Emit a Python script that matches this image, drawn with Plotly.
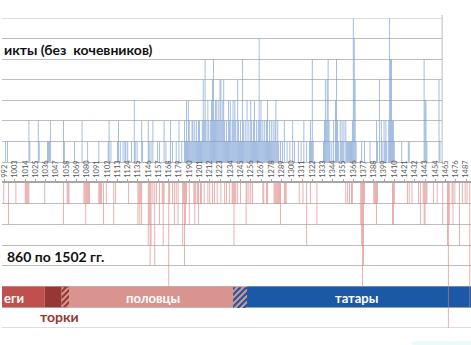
import plotly.graph_objects as go

W, H = 471, 345

# ---------------- data ----------------
# internal conflicts (upper panel, blue)
blue_years = [993, 995, 1018, 1019, 1028, 1029, 1038, 1039, 1040, 1041, 1055, 1056, 1067, 1075, 1081,
              1093, 1103, 1104, 1106, 1113, 1114, 1116, 1119, 1121, 1122, 1124, 1128, 1131, 1132, 1134,
              1139, 1140, 1146, 1147, 1149, 1151, 1156, 1158, 1163, 1165, 1170, 1172, 1176, 1179, 1182,
              1185, 1186, 1187, 1188, 1189, 1190, 1191, 1192, 1193, 1194, 1195, 1196, 1197, 1198, 1199,
              1200, 1201, 1202, 1203, 1204, 1205, 1206, 1207, 1208, 1209, 1210, 1211, 1212, 1213, 1214,
              1215, 1216, 1217, 1218, 1219, 1220, 1221, 1222, 1223, 1224, 1225, 1226, 1227, 1228, 1229,
              1230, 1231, 1232, 1233, 1234, 1235, 1236, 1237, 1238, 1239, 1240, 1241, 1242, 1243, 1244,
              1245, 1246, 1247, 1248, 1249, 1250, 1251, 1252, 1253, 1254, 1255, 1256, 1257, 1258, 1259,
              1260, 1261, 1262, 1263, 1264, 1265, 1266, 1267, 1268, 1269, 1270, 1271, 1272, 1273, 1274,
              1275, 1276, 1277, 1278, 1279, 1280, 1281, 1282, 1283, 1284, 1285, 1286, 1288, 1290, 1292,
              1295, 1298, 1301, 1303, 1307, 1310, 1313, 1316, 1319, 1320, 1321, 1322, 1323, 1334, 1335,
              1336, 1337, 1338, 1339, 1340, 1341, 1343, 1345, 1347, 1348, 1349, 1350, 1352, 1353, 1354,
              1355, 1356, 1358, 1359, 1360, 1361, 1362, 1363, 1364, 1365, 1366, 1367, 1368, 1369, 1375,
              1378, 1384, 1391, 1392, 1394, 1396, 1397, 1399, 1400, 1401, 1402, 1404, 1405, 1406, 1407,
              1408, 1409, 1410, 1418, 1425, 1426, 1442, 1443, 1444, 1445, 1458, 1459]
blue_vals = [1, 1, 2, 1, 2, 1, 1, 1, 1, 2, 2, 1, 1, 2, 1,
             1, 1, 2, 1, 1, 2, 1, 1, 1, 1, 1, 1, 3, 1, 1,
             2, 1, 2, 1, 1, 2, 1, 1, 2, 1, 2, 1, 1, 2, 1,
             2, 1, 3, 1, 3, 2, 1, 1, 2, 2, 1, 2, 1, 2, 1,
             2, 2, 1, 1, 2, 4, 2, 5, 2, 1, 3, 2, 1, 2, 3,
             4, 5, 2, 3, 3, 2, 3, 2, 4, 4, 2, 3, 4, 2, 1,
             2, 1, 3, 2, 3, 1, 2, 3, 2, 3, 2, 1, 4, 2, 1,
             2, 1, 5, 2, 1, 2, 1, 3, 1, 2, 1, 3, 2, 1, 2,
             3, 1, 2, 1, 2, 6, 2, 3, 1, 2, 1, 2, 1, 2, 3,
             1, 2, 1, 2, 1, 2, 1, 2, 3, 1, 2, 1, 1, 1, 2,
             1, 1, 2, 1, 1, 1, 2, 1, 1, 2, 1, 5, 1, 1, 2,
             4, 2, 4, 5, 2, 1, 1, 2, 3, 5, 2, 1, 2, 1, 2,
             1, 2, 2, 1, 1, 1, 1, 1, 1, 2, 7, 6, 4, 1, 1,
             1, 1, 2, 1, 4, 2, 1, 2, 1, 2, 1, 2, 7, 5, 5,
             2, 2, 1, 1, 1, 1, 5, 3, 3, 1, 4, 1]

# conflicts with nomads (lower panel, red, drawn downwards)
red_years = [991, 996, 1004, 1014, 1015, 1016, 1017, 1018, 1035, 1055, 1059, 1060, 1061, 1077, 1078,
             1079, 1080, 1081, 1082, 1083, 1093, 1094, 1095, 1096, 1098, 1101, 1109, 1111, 1125, 1135,
             1136, 1137, 1138, 1139, 1146, 1147, 1148, 1149, 1151, 1153, 1155, 1158, 1161, 1162, 1163,
             1168, 1169, 1172, 1174, 1176, 1178, 1183, 1184, 1185, 1186, 1187, 1190, 1195, 1196, 1197,
             1199, 1200, 1202, 1203, 1206, 1210, 1212, 1215, 1217, 1220, 1224, 1228, 1230, 1233, 1236,
             1237, 1238, 1239, 1240, 1242, 1245, 1251, 1252, 1254, 1256, 1258, 1269, 1270, 1273, 1274,
             1281, 1282, 1283, 1284, 1285, 1286, 1287, 1288, 1292, 1293, 1294, 1308, 1312, 1316, 1320,
             1327, 1358, 1360, 1362, 1364, 1365, 1374, 1375, 1376, 1377, 1378, 1388, 1389, 1390, 1391,
             1392, 1408, 1409, 1410, 1424, 1426, 1429, 1436, 1438, 1441, 1442, 1443, 1444, 1445, 1452,
             1456, 1462, 1467, 1468, 1469, 1472, 1473, 1475, 1480, 1483, 1486, 1488, 1491]
red_vals = [1, 2, 1, 1, 1, 1, 1, 1, 1, 2, 1, 1, 1, 1, 1,
            2, 1, 1, 1, 1, 1, 1, 1, 1, 2, 1, 2, 1, 1, 2,
            1, 2, 1, 2, 3, 2, 4, 3, 1, 4, 1, 2, 1, 3, 1,
            5, 1, 1, 2, 1, 2, 3, 1, 4, 2, 1, 2, 1, 2, 1,
            1, 2, 1, 1, 1, 1, 1, 1, 1, 1, 1, 1, 1, 1, 1,
            1, 3, 1, 1, 1, 1, 2, 1, 1, 1, 1, 1, 1, 1, 1,
            1, 1, 1, 1, 1, 1, 1, 2, 1, 1, 1, 1, 1, 3, 1,
            2, 1, 1, 1, 1, 1, 2, 3, 5, 4, 1, 1, 1, 1, 2,
            1, 2, 2, 1, 1, 1, 1, 1, 2, 1, 2, 2, 1, 1, 1,
            1, 2, 3, 7, 2, 1, 2, 1, 3, 1, 1, 1, 6]

tick_years = list(range(992, 1488, 11))
tick_labels = [str(y) for y in tick_years]

# nomad periods (band)
band_names = ["печенеги", "торки", "половцы", "татары"]
band_starts = [900, 1035, 1061, 1252]
band_ends = [1035, 1053, 1237, 1510]
band_colors = ["#C0504D", "#953735", "#D9948F", "#1B58A6"]
hatch_starts = [1053, 1237]
hatch_ends = [1061, 1252]
hatch_base = ["#953735", "#D9948F"]
hatch_stripe = ["#D9948F", "#1B58A6"]

# ---------------- geometry ----------------
X0 = 989.1          # year at left edge
S = 0.936           # px per year
UP_RIGHT = 442      # right border of upper panel (px)
BAND_TOP, BAND_BOT = 287.2, 307.9


def px(x):
    return x / W


def py(y):
    return 1 - y / H


def year_px(yr):
    return (yr - X0) * S


def clip_poly(poly, xa, xb, ya, yb):
    def clip(pts, inside, inter):
        out = []
        n = len(pts)
        for i in range(n):
            cur, prv = pts[i], pts[i - 1]
            if inside(cur):
                if not inside(prv):
                    out.append(inter(prv, cur))
                out.append(cur)
            elif inside(prv):
                out.append(inter(prv, cur))
        return out

    def ix(p, q, xv):
        t = (xv - p[0]) / (q[0] - p[0])
        return (xv, p[1] + t * (q[1] - p[1]))

    def iy(p, q, yv):
        t = (yv - p[1]) / (q[1] - p[1])
        return (p[0] + t * (q[0] - p[0]), yv)

    pts = poly
    pts = clip(pts, lambda p: p[0] >= xa, lambda p, q: ix(p, q, xa)) if pts else pts
    pts = clip(pts, lambda p: p[0] <= xb, lambda p, q: ix(p, q, xb)) if pts else pts
    pts = clip(pts, lambda p: p[1] >= ya, lambda p, q: iy(p, q, ya)) if pts else pts
    pts = clip(pts, lambda p: p[1] <= yb, lambda p, q: iy(p, q, yb)) if pts else pts
    return pts


fig = go.Figure()

fig.add_trace(go.Bar(x=blue_years, y=blue_vals, width=0.9,
                     marker=dict(color="rgba(118,156,210,0.78)", line=dict(width=0)),
                     xaxis="x", yaxis="y", showlegend=False, hoverinfo="skip"))
fig.add_trace(go.Bar(x=red_years, y=red_vals, width=0.9,
                     marker=dict(color="rgba(220,128,126,0.72)", line=dict(width=0)),
                     xaxis="x2", yaxis="y2", showlegend=False, hoverinfo="skip"))

grid = "#BDBDBD"
shapes = []
# band segments
for s0, s1, c in zip(band_starts, band_ends, band_colors):
    shapes.append(dict(type="rect", xref="x2", yref="y2", x0=s0, x1=s1, y0=5, y1=6,
                       fillcolor=c, line=dict(width=0), layer="between"))
# hatch areas (diagonal stripes, drawn in pixel space)
for h0, h1, b, st in zip(hatch_starts, hatch_ends, hatch_base, hatch_stripe):
    shapes.append(dict(type="rect", xref="x2", yref="y2", x0=h0, x1=h1, y0=5, y1=6,
                       fillcolor=b, line=dict(width=0), layer="between"))
    xa, xb = year_px(h0), year_px(h1)
    period, thick = 6.0, 3.0
    c = xa + BAND_TOP - 30
    while c < xb + BAND_BOT + 30:
        poly = [(xa - 40, -(xa - 40) + c), (xb + 40, -(xb + 40) + c),
                (xb + 40, -(xb + 40) + c + thick), (xa - 40, -(xa - 40) + c + thick)]
        cl = clip_poly(poly, xa, xb, BAND_TOP, BAND_BOT)
        if len(cl) >= 3:
            path = "M " + " L ".join(f"{px(p[0]):.5f},{py(p[1]):.5f}" for p in cl) + " Z"
            shapes.append(dict(type="path", xref="paper", yref="paper", path=path,
                               fillcolor=st, line=dict(width=0), layer="above"))
        c += period

# edge grid lines
shapes.append(dict(type="line", xref="paper", yref="y", x0=0, x1=px(UP_RIGHT), y0=7, y1=7,
                   line=dict(color=grid, width=1)))
shapes.append(dict(type="line", xref="paper", yref="paper", x0=px(UP_RIGHT), x1=px(UP_RIGHT),
                   y0=py(162), y1=py(15), line=dict(color=grid, width=1)))
shapes.append(dict(type="line", xref="paper", yref="y2", x0=0, x1=1, y0=7, y1=7,
                   line=dict(color=grid, width=1)))
shapes.append(dict(type="rect", xref="paper", yref="paper", x0=px(412), x1=1, y0=0, y1=py(341),
                   fillcolor="#E9FBFB", line=dict(width=0)))

font = "Lato, 'Open Sans', 'DejaVu Sans', sans-serif"
ann = [
    dict(x=px(0), y=py(49), text="<b>икты (без  кочевников)</b>", xanchor="left", yanchor="middle",
         font=dict(size=14, color="#111111", family=font)),
    dict(x=px(3), y=py(256), text="<b>860 по 1502 гг.</b>", xanchor="left", yanchor="middle",
         font=dict(size=14, color="#111111", family=font)),
    dict(x=px(0), y=py(298), text="<b>еги</b>", xanchor="left", yanchor="middle",
         font=dict(size=13, color="white", family=font)),
    dict(x=px(152), y=py(298), text="<b>половцы</b>", xanchor="center", yanchor="middle",
         font=dict(size=13, color="white", family=font)),
    dict(x=px(356), y=py(298), text="<b>татары</b>", xanchor="center", yanchor="middle",
         font=dict(size=13, color="white", family=font)),
    dict(x=px(58), y=py(316), text="<b>торки</b>", xanchor="center", yanchor="middle",
         font=dict(size=14, color="#953735", family=font)),
]
for a in ann:
    a.update(xref="paper", yref="paper", showarrow=False)

fig.update_layout(
    width=W, height=H, margin=dict(l=0, r=0, t=0, b=0),
    paper_bgcolor="white", plot_bgcolor="rgba(0,0,0,0)",
    barmode="overlay", bargap=0.2, showlegend=False,
    xaxis=dict(domain=[0, px(UP_RIGHT)], range=[X0, X0 + UP_RIGHT / S], anchor="y",
               showgrid=False, zeroline=False, showticklabels=False, ticks="",
               showline=True, linecolor=grid, linewidth=1),
    yaxis=dict(domain=[py(162), py(18)], range=[0, 7], anchor="x", dtick=1,
               showgrid=True, gridcolor=grid, gridwidth=1, zeroline=False,
               showticklabels=False, ticks=""),
    xaxis2=dict(domain=[0, 1], range=[X0, X0 + W / S], anchor="y2", side="top",
                tickmode="array", tickvals=tick_years, ticktext=tick_labels, tickangle=-90,
                ticklabeloverflow="allow",
                tickfont=dict(size=7.5, color="#595959", family="Lato, 'Open Sans', sans-serif"),
                ticks="outside", ticklen=2, tickcolor="#A6A6A6",
                showgrid=False, zeroline=False, showline=True, linecolor="#A6A6A6", linewidth=1.5),
    yaxis2=dict(domain=[py(328), py(183)], range=[7, 0], anchor="x2", dtick=1,
                showgrid=True, gridcolor=grid, gridwidth=1, zeroline=False,
                showticklabels=False, ticks=""),
    shapes=shapes, annotations=ann,
)

fig.write_html("out.html")
